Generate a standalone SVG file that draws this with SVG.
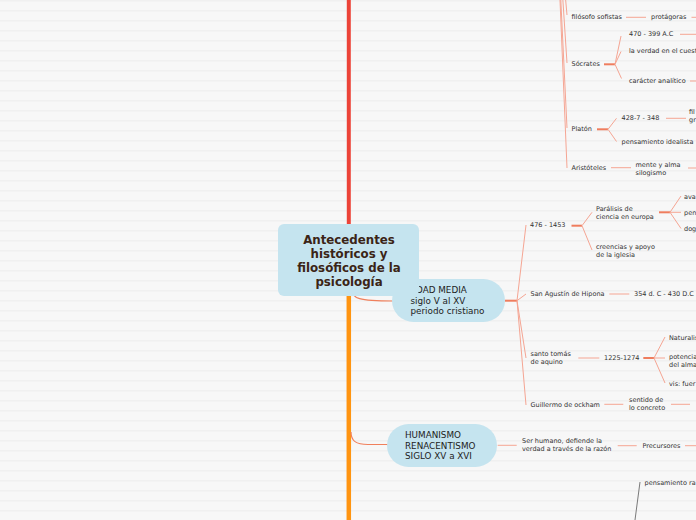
<svg xmlns="http://www.w3.org/2000/svg" width="696" height="520" viewBox="0 0 696 520">
<defs>
<pattern id="bg" width="10" height="10" patternUnits="userSpaceOnUse">
<rect width="10" height="10" fill="#f7f7f7"/>
<rect y="0" width="10" height="1.5" fill="#f0f0f0"/>
</pattern>
<style>
.lbl{font-family:"DejaVu Sans",Verdana,sans-serif;font-size:6.5px;fill:#333}
.nd{font-family:"DejaVu Sans",Verdana,sans-serif;font-size:8.8px;fill:#222}
.ttl{font-family:"DejaVu Sans",Verdana,sans-serif;font-size:11.8px;font-weight:bold;fill:#3b2416;text-anchor:middle}
.c{stroke:#f5a593;stroke-width:1;fill:none}
.s{stroke:#ef7d5e;stroke-width:2;fill:none}
.box{fill:#c5e4ef}
</style>
</defs>
<rect width="696" height="520" fill="url(#bg)"/>

<g id="connectors">
<line x1="348.8" y1="0" x2="348.8" y2="226" stroke="#ec4338" stroke-width="4"/>
<line x1="348.8" y1="294" x2="348.8" y2="520" stroke="#ff9410" stroke-width="4.5"/>
<path d="M351,288 C351,299 360,301 393,301" stroke="#f0805c" stroke-width="1.2" fill="none"/>
<path d="M351,432 C351,441 356,444.5 368,444.5 L388,444.5" stroke="#f0805c" stroke-width="1.2" fill="none"/>
<!-- top fan -->
<path class="c" d="M555,-120 L567,15 M555,-120 L567,63 M555,-120 L567,128 M555,-120 L567,168"/>
<path class="c" d="M626,17.3 H646 M691.5,17.3 H696"/>
<path class="s" d="M604,64.3 H615"/>
<path class="c" d="M615,64.3 L621,36 M615,64.3 L621,51.5 M615,64.3 L621.5,78.5"/>
<path class="c" d="M680,34.3 H696 M690,81 H696"/>
<path class="s" d="M597,129.3 H608"/>
<path class="c" d="M608,129.3 L616.5,118.3 M608,129.3 L616.5,141.5"/>
<path class="c" d="M666,118.3 H686"/>
<path class="c" d="M611,167.7 H631 M688,168 H696"/>
<!-- EDAD MEDIA -->
<path class="s" d="M505,300.7 H517"/>
<path class="c" d="M517,300.7 L526,225 M517,300.7 L526,294 M517,300.7 L526,358 M517,300.7 L526,405"/>
<path class="s" d="M571.5,225.7 H582"/>
<path class="c" d="M582,225.7 L592,212.3 M582,225.7 L592,250"/>
<path class="s" d="M659,212.3 H670"/>
<path class="c" d="M670,212.3 L681,196 M670,212.3 L681,212.3 M670,212.3 L681,228.5"/>
<path class="c" d="M609.3,294 H629.3"/>
<path class="c" d="M578.3,358 H599.3"/>
<path class="s" d="M643.3,358 H654"/>
<path class="c" d="M654,358 L665,337 M654,358 L665,358 M654,358 L665,383"/>
<path class="c" d="M604.3,404.3 H623.3 M671,404.3 H690"/>
<!-- HUMANISMO -->
<path class="c" d="M497.7,445.3 H516.7 M617.7,445.7 H636.7 M685,445.7 H696"/>
<line x1="640" y1="482" x2="635" y2="520" stroke="#6b6b6b" stroke-width="0.9"/>
</g>

<g id="n-edad">
<rect class="box" x="392" y="279" width="113" height="43" rx="21.5"/>
<text class="nd" x="410.5" y="292.7">EDAD MEDIA</text>
<text class="nd" x="410.5" y="303.5">siglo V al XV</text>
<text class="nd" x="410.5" y="314.3">periodo cristiano</text>
</g>

<g id="n-center">
<rect class="box" x="278" y="224" width="141" height="72" rx="6"/>
<text class="ttl" x="349" y="244">Antecedentes</text>
<text class="ttl" x="349" y="258">históricos y</text>
<text class="ttl" x="349" y="272">filosóficos de la</text>
<text class="ttl" x="349" y="286">psicología</text>
</g>

<g id="n-humanismo">
<rect class="box" x="387" y="424" width="110" height="43" rx="21.5"/>
<text class="nd" x="405" y="437.7">HUMANISMO</text>
<text class="nd" x="405" y="448.5">RENACENTISMO</text>
<text class="nd" x="405" y="459.3">SIGLO XV a XVI</text>
</g>

<g id="n-sofistas"><text class="lbl" x="571.5" y="19">filósofo sofistas</text></g>
<g id="n-protagoras"><text class="lbl" x="651" y="19">protágoras</text></g>
<g id="n-socrates"><text class="lbl" x="571.5" y="66">Sócrates</text></g>
<g id="n-470"><text class="lbl" x="629" y="36">470 - 399 A.C</text></g>
<g id="n-verdad"><text class="lbl" x="629" y="53">la verdad en el cuesti</text></g>
<g id="n-caracter"><text class="lbl" x="629" y="83">carácter analítico</text></g>
<g id="n-platon"><text class="lbl" x="571.5" y="131">Platón</text></g>
<g id="n-428"><text class="lbl" x="621.5" y="120">428-7 - 348</text></g>
<g id="n-fil"><text class="lbl" x="689" y="114">fil</text><text class="lbl" x="689" y="122">gr</text></g>
<g id="n-idealista"><text class="lbl" x="621.5" y="144">pensamiento idealista</text></g>
<g id="n-aristoteles"><text class="lbl" x="571.5" y="170">Aristóteles</text></g>
<g id="n-mente"><text class="lbl" x="635.5" y="166.5">mente y alma</text><text class="lbl" x="635.5" y="174.5">silogismo</text></g>

<g id="n-476"><text class="lbl" x="530" y="226.5">476 - 1453</text></g>
<g id="n-paralisis"><text class="lbl" x="596" y="210.5">Parálisis de</text><text class="lbl" x="596" y="218.5">ciencia en europa</text></g>
<g id="n-creencias"><text class="lbl" x="596" y="248.5">creencias y apoyo</text><text class="lbl" x="596" y="256.5">de la iglesia</text></g>
<g id="n-ava"><text class="lbl" x="684" y="198.5">ava</text></g>
<g id="n-pen"><text class="lbl" x="684" y="214.5">pen</text></g>
<g id="n-dog"><text class="lbl" x="684" y="230.5">dog</text></g>
<g id="n-agustin"><text class="lbl" x="530.5" y="296">San Agustín de Hipona</text></g>
<g id="n-354"><text class="lbl" x="634" y="296">354 d. C - 430 D.C</text></g>
<g id="n-tomas"><text class="lbl" x="530.5" y="355.5">santo tomás</text><text class="lbl" x="530.5" y="363.5">de aquino</text></g>
<g id="n-1225"><text class="lbl" x="604" y="360">1225-1274</text></g>
<g id="n-naturalis"><text class="lbl" x="669" y="339.5">Naturalis</text></g>
<g id="n-potencia"><text class="lbl" x="669" y="358.5">potencia</text><text class="lbl" x="669" y="366.5">del alma</text></g>
<g id="n-vis"><text class="lbl" x="669" y="385.5">vis: fuer</text></g>
<g id="n-ockham"><text class="lbl" x="530.5" y="406.5">Guillermo de ockham</text></g>
<g id="n-sentido"><text class="lbl" x="629" y="402">sentido de</text><text class="lbl" x="629" y="410">lo concreto</text></g>

<g id="n-serhumano"><text class="lbl" x="522" y="442.5">Ser humano, defiende la</text><text class="lbl" x="522" y="450.5">verdad a través de la razón</text></g>
<g id="n-precursores"><text class="lbl" x="642.5" y="447.5">Precursores</text></g>
<g id="n-racional"><text class="lbl" x="644.5" y="485">pensamiento ra</text></g>
</svg>
